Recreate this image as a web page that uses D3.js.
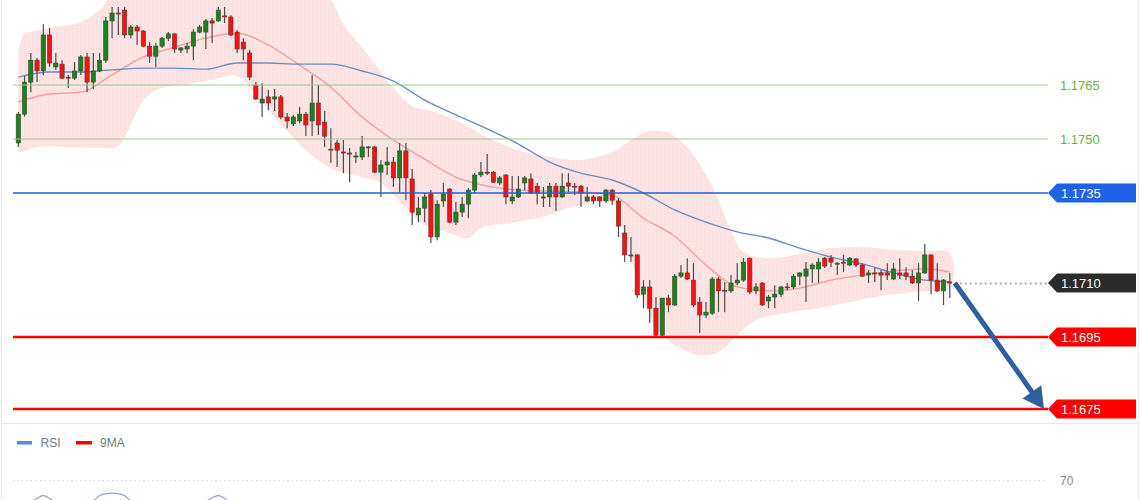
<!DOCTYPE html>
<html><head><meta charset="utf-8">
<script src="https://cdn.jsdelivr.net/npm/d3@7"></script>
<style>html,body{margin:0;padding:0;background:#fff;overflow:hidden}svg{display:block;font-family:"Liberation Sans",Arial,sans-serif}</style>
</head><body><svg id="c" width="1140" height="500"></svg>
<script>
// ---- data (candles: open, high, low, close) ----
const ohlc = [
[1.17489,1.17575,1.17478,1.17569],[1.17569,1.17675,1.17562,1.17658],[1.17658,1.17739,1.17630,1.17719],[1.17719,1.17725,1.17658,1.17689],
[1.17689,1.17819,1.17678,1.17789],[1.17789,1.17808,1.17700,1.17711],[1.17700,1.17739,1.17692,1.17711],[1.17708,1.17719,1.17667,1.17669],
[1.17672,1.17678,1.17642,1.17669],[1.17669,1.17714,1.17664,1.17689],[1.17689,1.17733,1.17678,1.17728],[1.17728,1.17739,1.17630,1.17658],
[1.17658,1.17739,1.17639,1.17689],[1.17689,1.17739,1.17686,1.17719],[1.17719,1.17839,1.17711,1.17828],[1.17828,1.17867,1.17780,1.17850],
[1.17850,1.17867,1.17789,1.17847],[1.17858,1.17867,1.17780,1.17789],[1.17789,1.17817,1.17780,1.17811],[1.17811,1.17817,1.17761,1.17800],
[1.17800,1.17803,1.17755,1.17758],[1.17758,1.17769,1.17711,1.17730],[1.17730,1.17767,1.17700,1.17758],[1.17758,1.17783,1.17753,1.17780],
[1.17780,1.17797,1.17772,1.17792],[1.17792,1.17794,1.17739,1.17750],[1.17747,1.17755,1.17739,1.17753],[1.17750,1.17767,1.17739,1.17758],
[1.17758,1.17805,1.17719,1.17797],[1.17797,1.17817,1.17794,1.17811],[1.17797,1.17833,1.17750,1.17828],[1.17828,1.17836,1.17767,1.17822],
[1.17828,1.17867,1.17825,1.17858],[1.17842,1.17867,1.17822,1.17839],[1.17839,1.17844,1.17786,1.17789],[1.17797,1.17803,1.17739,1.17750],
[1.17769,1.17780,1.17719,1.17750],[1.17739,1.17747,1.17664,1.17672],[1.17650,1.17658,1.17608,1.17611],[1.17600,1.17655,1.17561,1.17611],
[1.17617,1.17636,1.17580,1.17600],[1.17611,1.17639,1.17578,1.17617],[1.17617,1.17622,1.17555,1.17561],[1.17561,1.17572,1.17530,1.17550],
[1.17542,1.17567,1.17536,1.17561],[1.17550,1.17589,1.17544,1.17569],[1.17569,1.17575,1.17508,1.17539],[1.17550,1.17678,1.17508,1.17600],
[1.17600,1.17650,1.17511,1.17539],[1.17547,1.17578,1.17478,1.17508],[1.17472,1.17530,1.17433,1.17469],[1.17489,1.17497,1.17422,1.17469],
[1.17464,1.17497,1.17405,1.17461],[1.17461,1.17475,1.17380,1.17458],[1.17450,1.17464,1.17433,1.17453],[1.17450,1.17508,1.17442,1.17478],
[1.17478,1.17480,1.17450,1.17478],[1.17478,1.17480,1.17405,1.17408],[1.17408,1.17442,1.17339,1.17428],[1.17428,1.17478,1.17400,1.17436],
[1.17436,1.17450,1.17367,1.17392],[1.17392,1.17489,1.17350,1.17467],[1.17467,1.17489,1.17330,1.17392],[1.17389,1.17417,1.17261,1.17297],
[1.17289,1.17339,1.17269,1.17308],[1.17308,1.17350,1.17269,1.17339],[1.17347,1.17358,1.17211,1.17228],[1.17228,1.17330,1.17219,1.17319],
[1.17328,1.17378,1.17311,1.17347],[1.17361,1.17364,1.17266,1.17269],[1.17269,1.17325,1.17261,1.17297],[1.17297,1.17339,1.17283,1.17319],
[1.17319,1.17364,1.17280,1.17358],[1.17358,1.17405,1.17350,1.17400],[1.17400,1.17436,1.17394,1.17408],[1.17408,1.17458,1.17400,1.17405],
[1.17408,1.17411,1.17378,1.17380],[1.17378,1.17397,1.17372,1.17392],[1.17400,1.17403,1.17319,1.17339],[1.17328,1.17397,1.17319,1.17339],
[1.17339,1.17397,1.17336,1.17361],[1.17378,1.17397,1.17358,1.17392],[1.17389,1.17405,1.17347,1.17350],[1.17369,1.17378,1.17319,1.17350],
[1.17339,1.17367,1.17311,1.17336],[1.17339,1.17378,1.17311,1.17369],[1.17369,1.17378,1.17300,1.17339],[1.17339,1.17405,1.17336,1.17369],
[1.17378,1.17405,1.17353,1.17369],[1.17369,1.17378,1.17344,1.17367],[1.17369,1.17372,1.17311,1.17350],[1.17328,1.17367,1.17325,1.17339],
[1.17339,1.17344,1.17319,1.17328],[1.17339,1.17341,1.17311,1.17328],[1.17328,1.17361,1.17322,1.17358],[1.17358,1.17361,1.17317,1.17330],
[1.17328,1.17336,1.17228,1.17258],[1.17239,1.17261,1.17158,1.17178],[1.17178,1.17228,1.17158,1.17175],[1.17178,1.17180,1.17058,1.17067],
[1.17069,1.17108,1.17030,1.17089],[1.17089,1.17108,1.16989,1.17030],[1.17030,1.17061,1.16950,1.16955],[1.16955,1.17058,1.16950,1.17058],
[1.17058,1.17067,1.17019,1.17039],[1.17039,1.17125,1.17036,1.17119],[1.17119,1.17150,1.17114,1.17128],[1.17128,1.17169,1.17108,1.17111],
[1.17108,1.17155,1.17033,1.17039],[1.17047,1.17061,1.16961,1.17011],[1.17011,1.17047,1.17003,1.17019],[1.17016,1.17117,1.17011,1.17111],
[1.17111,1.17117,1.17019,1.17078],[1.17080,1.17103,1.17019,1.17078],[1.17078,1.17122,1.17072,1.17100],[1.17100,1.17155,1.17094,1.17108],
[1.17108,1.17169,1.17103,1.17158],[1.17169,1.17171,1.17069,1.17075],[1.17078,1.17100,1.17069,1.17089],[1.17100,1.17103,1.17036,1.17039],
[1.17050,1.17067,1.17030,1.17061],[1.17061,1.17094,1.17030,1.17069],[1.17069,1.17092,1.17061,1.17089],[1.17089,1.17100,1.17080,1.17087],
[1.17089,1.17125,1.17083,1.17119],[1.17119,1.17130,1.17094,1.17128],[1.17119,1.17158,1.17047,1.17139],[1.17139,1.17155,1.17100,1.17150],
[1.17139,1.17169,1.17100,1.17158],[1.17169,1.17172,1.17142,1.17147],[1.17169,1.17178,1.17144,1.17158],[1.17155,1.17158,1.17122,1.17155],
[1.17158,1.17178,1.17130,1.17155],[1.17150,1.17172,1.17147,1.17169],[1.17167,1.17169,1.17144,1.17150],[1.17150,1.17155,1.17117,1.17119],
[1.17122,1.17136,1.17100,1.17128],[1.17128,1.17142,1.17103,1.17125],[1.17128,1.17136,1.17080,1.17122],[1.17128,1.17155,1.17108,1.17122],
[1.17111,1.17155,1.17108,1.17139],[1.17128,1.17169,1.17111,1.17122],[1.17128,1.17144,1.17108,1.17119],[1.17119,1.17136,1.17097,1.17100],
[1.17100,1.17155,1.17050,1.17128],[1.17128,1.17208,1.17125,1.17178],[1.17178,1.17180,1.17069,1.17108],[1.17108,1.17155,1.17075,1.17078],
[1.17078,1.17111,1.17039,1.17108],[1.17103,1.17128,1.17058,1.17100]
];
// moving averages read at candle indices
const maIdx = [0,5,10,15,20,25,30,35,40,45,50,55,60,65,70,75,80,85,90,95,100,105,110,115,120,125,130,135,140,145,149];
const maSlow = [1.17672,1.17686,1.17686,1.17692,1.17697,1.17697,1.17694,1.17711,1.17711,1.17708,1.17708,1.17689,1.17661,1.17608,1.17567,1.17528,1.17486,1.17436,1.17405,1.17386,1.17350,1.17303,1.17269,1.17242,1.17225,1.17197,1.17172,1.17153,1.17128,1.17108,1.17103];
const maFast = [1.17603,1.17625,1.17630,1.17678,1.17728,1.17755,1.17780,1.17794,1.17761,1.17705,1.17644,1.17561,1.17497,1.17444,1.17394,1.17369,1.17358,1.17355,1.17353,1.17344,1.17280,1.17230,1.17150,1.17089,1.17078,1.17086,1.17108,1.17122,1.17133,1.17139,1.17130];
// envelope band
const upIdx = [0,1,2,5,10,13,15,20,30,40,47,50,52,55,58,60,63,66,70,75,80,85,90,95,98,101,104,107,110,112,114,116,120,125,130,135,140,145,149];
const upVal = [1.17747,1.17794,1.17797,1.17808,1.17825,1.17858,1.17900,1.17942,1.17942,1.17942,1.17914,1.17886,1.17817,1.17755,1.17686,1.17642,1.17592,1.17578,1.17553,1.17505,1.17469,1.17450,1.17442,1.17464,1.17497,1.17522,1.17517,1.17478,1.17400,1.17330,1.17247,1.17186,1.17169,1.17180,1.17197,1.17200,1.17192,1.17189,1.17183];
const loIdx = [0,3,8,13,16,18,20,22,26,31,35,38,41,46,50,55,58,62,65,69,72,74,79,85,88,92,95,97,99,101,103,105,109,112,115,118,123,128,133,138,143,149];
const loVal = [1.17461,1.17478,1.17478,1.17475,1.17480,1.17539,1.17608,1.17636,1.17650,1.17664,1.17675,1.17622,1.17561,1.17469,1.17419,1.17394,1.17378,1.17308,1.17261,1.17239,1.17225,1.17253,1.17267,1.17289,1.17308,1.17322,1.17322,1.17233,1.17108,1.17011,1.16955,1.16928,1.16900,1.16908,1.16955,1.16997,1.17017,1.17030,1.17047,1.17064,1.17075,1.17089];
// price levels
const levelValues = [1.1765,1.1750,1.1735,1.1710,1.1695,1.1675];
const levelLabels = ["1.1765","1.1750","1.1735","1.1710","1.1695","1.1675"];
const targetValue = 1.1675;
// RSI panel
const legendLabels = ["RSI","9MA"];
const rsiLevel = 70;
const rsiIdx = [0,2,4,6,8,10,12,13,14,15,16,17,18,20,22,24,26,28,30,32,34,36,38,40,50,60,70,80,90,100,110,120,130,140,149];
const rsiVal = [52,55,59.6,55,52,53,56,59.5,60.8,61.2,60.8,59.5,56,53,52,53,52,54,56,59.6,55,52,47,44,40,38,35,34,33,30,40,45,50,48,47];

// ---- drawing ----
const svg = d3.select('#c');
const y = d3.scaleLinear().domain([1.1675,1.1765]).range([409,85]);
const x = d3.scalePoint().domain(d3.range(ohlc.length)).range([18.3,949.8]);
const xi = d3.scaleLinear().domain([0,ohlc.length-1]).range([18.3,949.8]);
const bw = x.step()*0.68;

const defs = svg.append('defs');
const pat = defs.append('pattern').attr('id','dots').attr('width',4).attr('height',4).attr('patternUnits','userSpaceOnUse');
pat.append('rect').attr('width',4).attr('height',4).attr('fill','#fde4e4');
pat.append('circle').attr('cx',1).attr('cy',1).attr('r',0.6).attr('fill','#f8d0d0');
defs.append('clipPath').attr('id','plot').append('rect').attr('x',3).attr('y',0).attr('width',1135).attr('height',422);
defs.append('clipPath').attr('id','rsiclip').append('rect').attr('x',3).attr('y',424).attr('width',1135).attr('height',76);

// frame
svg.append('line').attr('x1',1.5).attr('x2',1.5).attr('y1',0).attr('y2',500).attr('stroke','#e4e8ec');
svg.append('line').attr('x1',1138.5).attr('x2',1138.5).attr('y1',0).attr('y2',500).attr('stroke','#e4e8ec');
svg.append('line').attr('x1',2).attr('x2',1138).attr('y1',423.5).attr('y2',423.5).attr('stroke','#e4e8ec');

const plot = svg.append('g').attr('clip-path','url(#plot)');

// band
const up = upIdx.map((d,i)=>[xi(d), y(upVal[i])]);
const lo = loIdx.map((d,i)=>[xi(d), y(loVal[i])]).reverse();
const bandLine = d3.line().curve(d3.curveCatmullRom.alpha(0.5));
plot.append('path').attr('d', bandLine(up.concat(lo)) + 'Z').attr('fill','url(#dots)');

// moving averages
const maLine = d3.line().x(d=>xi(d[0])).y(d=>y(d[1])).curve(d3.curveMonotoneX);
plot.append('path').attr('d', maLine(maIdx.map((d,i)=>[d,maFast[i]]))).attr('fill','none').attr('stroke','#f39a9a').attr('stroke-width',1.3);
plot.append('path').attr('d', maLine(maIdx.map((d,i)=>[d,maSlow[i]]))).attr('fill','none').attr('stroke','#6a8cc4').attr('stroke-width',1.4);

// level styles
const lineEnd = 1048;
const levelStyle = [
  {stroke:'#9acd84', w:1, kind:'text', color:'#6db33f'},
  {stroke:'#9acd84', w:1, kind:'text', color:'#6db33f'},
  {stroke:'#1f5fe0', w:1.5, kind:'box', color:'#1f62e8'},
  {stroke:'#aab0b8', w:2, kind:'box', color:'#2b2b2b', dotted:true},
  {stroke:'#ff0000', w:2.5, kind:'box', color:'#ff0000'},
  {stroke:'#ff0000', w:2.5, kind:'box', color:'#ff0000'}
];
const lastX = x(ohlc.length-1)+5;
levelValues.forEach((v,i)=>{
  const s = levelStyle[i], yy = Math.round(y(v))+0.5;
  if (s.dotted) {
    svg.append('line').attr('x1',lastX).attr('x2',lineEnd).attr('y1',yy).attr('y2',yy)
      .attr('stroke',s.stroke).attr('stroke-width',s.w).attr('stroke-dasharray','2,3');
  }
});

// candles
const cg = plot.append('g');
ohlc.forEach((d,i)=>{
  const [o,h,l,c] = d, cx = x(i);
  const rising = c >= o;
  cg.append('line').attr('x1',cx).attr('x2',cx).attr('y1',y(h)).attr('y2',y(l)).attr('stroke','#4a4a4a').attr('stroke-width',1.2);
  const top = y(Math.max(o,c)), bot = y(Math.min(o,c));
  cg.append('rect').attr('x',cx-bw/2).attr('width',bw).attr('y',top).attr('height',Math.max(1,bot-top))
    .attr('fill', rising ? '#1f801f' : '#f01414').attr('stroke', rising ? '#2a4d2a' : '#7a2a2a').attr('stroke-width',0.6);
});

// solid level lines
levelValues.forEach((v,i)=>{
  const s = levelStyle[i], yy = y(v);
  if (!s.dotted) {
    svg.append('line').attr('x1',13).attr('x2',lineEnd).attr('y1',yy).attr('y2',yy)
      .attr('stroke',s.stroke).attr('stroke-width',s.w);
  }
});
// labels
levelValues.forEach((v,i)=>{
  const s = levelStyle[i], yy = y(v);
  if (s.kind==='text') {
    svg.append('text').attr('x',1060).attr('y',yy+4.5).attr('fill',s.color).attr('font-size',13).text(levelLabels[i]);
  } else {
    const hh = 9.5;
    svg.append('path').attr('d',`M${lineEnd},${yy} L1057,${yy-hh} L1136,${yy-hh} L1136,${yy+hh} L1057,${yy+hh} Z`).attr('fill',s.color);
    svg.append('text').attr('x',1061).attr('y',yy+4.5).attr('fill','#fff').attr('font-size',13).text(levelLabels[i]);
  }
});

// arrow
const x0 = lastX, y0 = y(ohlc[ohlc.length-1][3]);
const x1 = 1044, y1 = y(targetValue);
const dx = x1-x0, dy = y1-y0, len = Math.hypot(dx,dy), ux = dx/len, uy = dy/len, nx = -uy, ny = ux;
const hl = 21, hw = 11.5;
const bx = x1-ux*hl, by = y1-uy*hl;
svg.append('line').attr('x1',x0).attr('y1',y0).attr('x2',bx+ux*2).attr('y2',by+uy*2).attr('stroke','#2f5f9f').attr('stroke-width',5);
svg.append('path').attr('d',`M${x1},${y1} L${bx+nx*hw},${by+ny*hw} L${bx-nx*hw},${by-ny*hw} Z`).attr('fill','#2f5f9f');

// RSI panel
const lg = svg.append('g');
lg.append('rect').attr('x',17).attr('y',441).attr('width',15).attr('height',3.5).attr('fill','#5b8bd8');
lg.append('text').attr('x',40.5).attr('y',446.5).attr('fill','#7a7a7a').attr('font-size',12).text(legendLabels[0]);
lg.append('rect').attr('x',76).attr('y',441).attr('width',16).attr('height',3.5).attr('fill','#ff0000');
lg.append('text').attr('x',100).attr('y',446.5).attr('fill','#7a7a7a').attr('font-size',12).text(legendLabels[1]);

const ry = d3.scaleLinear().domain([30,70]).range([540,480]);
svg.append('line').attr('x1',13).attr('x2',1046).attr('y1',ry(rsiLevel)+0.5).attr('y2',ry(rsiLevel)+0.5)
  .attr('stroke','#c4c9d2').attr('stroke-width',1).attr('stroke-dasharray','1,3.5');
svg.append('text').attr('x',1060).attr('y',ry(rsiLevel)+5).attr('fill','#888').attr('font-size',12).text(String(rsiLevel));
svg.append('g').attr('clip-path','url(#rsiclip)').append('path')
  .attr('d', d3.line().x(d=>xi(d[0])).y(d=>ry(d[1])).curve(d3.curveMonotoneX)(rsiIdx.map((d,i)=>[d,rsiVal[i]])))
  .attr('fill','none').attr('stroke','#8ea6d4').attr('stroke-width',1.3);
</script>
</body></html>
